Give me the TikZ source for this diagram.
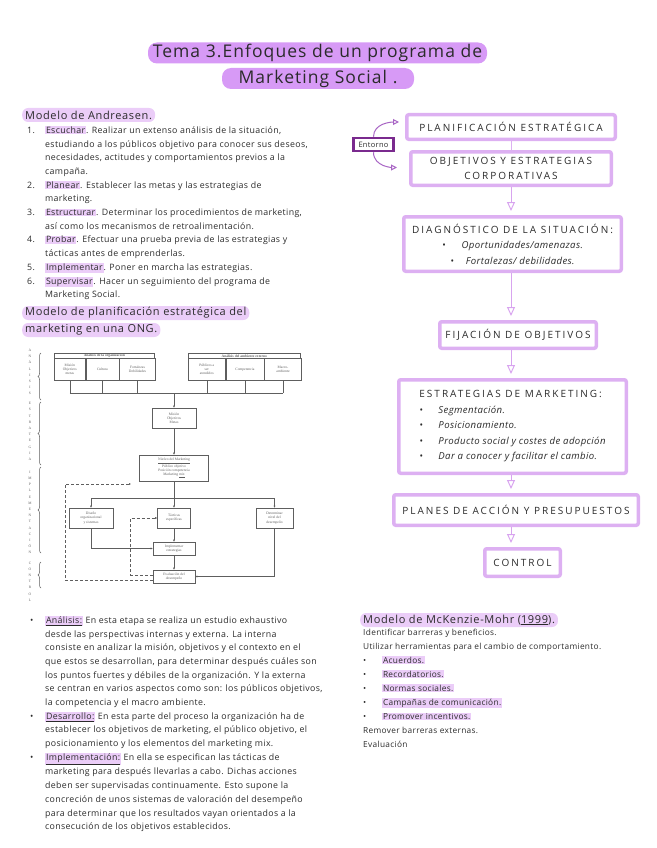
\documentclass[tikz,border=0pt]{standalone}
\usepackage{fontspec}
\setmainfont{Open Sans}[LetterSpace=4]
\newfontfamily\capsfont[LetterSpace=20]{Open Sans}
\newfontfamily\headfont[LetterSpace=6]{Open Sans}
\newfontfamily\scanfont{Liberation Serif}
\usepackage{tikz}
\usetikzlibrary{arrows.meta, positioning, calc, decorations.pathreplacing}

\definecolor{titlelila}{HTML}{D79AF6}
\definecolor{hllila}{HTML}{EBCDF8}
\definecolor{boxlila}{HTML}{DDB0F2}
\definecolor{arrlila}{HTML}{D8A4EF}
\definecolor{entlila}{HTML}{7A2A8E}
\definecolor{entarrow}{HTML}{A865C4}
\definecolor{ink}{HTML}{2B2B2B}
\definecolor{scangray}{HTML}{5E5E5E}

\newcommand{\hlt}[1]{{\setlength{\fboxsep}{0.8pt}\colorbox{hllila}{#1}}}
\newcommand{\handit}{\rmfamily\itshape\fontsize{9.6}{15.5}\selectfont}

\tikzstyle{titleband} = [fill=titlelila, rounded corners=9pt, minimum height=21pt, inner sep=0pt, text=ink, font=\headfont\fontsize{17.5}{19}\selectfont]
\tikzstyle{headband} = [fill=hllila, rounded corners=6pt, minimum height=14pt, inner xsep=3pt, inner ysep=0pt, text=ink, font=\headfont\fontsize{11}{12}\selectfont, anchor=west]
\tikzstyle{notes} = [anchor=north west, inner sep=0pt, text=ink, font=\fontsize{8.8}{13.7}\selectfont]
\tikzstyle{flow} = [rectangle, rounded corners=2pt, draw=boxlila, line width=3.5pt, fill=white, text=ink, align=center, font=\capsfont\fontsize{10}{15.5}\selectfont]
\tikzstyle{flowarr} = [-{Triangle[open, length=9pt, width=8pt]}, draw=arrlila, line width=1pt, shorten >=4pt]
\tikzstyle{entbox} = [rectangle, draw=entlila, line width=2.5pt, fill=white, text=ink, inner sep=1pt, minimum width=40pt, minimum height=13pt, font=\fontsize{7.5}{8}\selectfont]
\tikzstyle{entarr} = [-{Triangle[open, length=6pt, width=6pt]}, draw=entarrow, line width=1pt]
\tikzstyle{scanbox} = [rectangle, draw=scangray, line width=0.6pt, text=scangray, align=center, inner sep=0.5pt, font=\scanfont\fontsize{3.6}{4.2}\selectfont]
\tikzstyle{scanline} = [draw=scangray, line width=0.6pt]
\tikzstyle{scanarr} = [scanline, -{Latex[length=2pt, width=2pt]}]
\tikzstyle{scandash} = [scanarr, densely dashed]
\tikzstyle{scanlab} = [text=scangray, align=center, inner sep=0pt, font=\scanfont\fontsize{3.6}{6.2}\selectfont]
\tikzstyle{scanbrace} = [draw=scangray, line width=0.5pt, decorate, decoration={brace, amplitude=3pt}]

\begin{document}
\begin{tikzpicture}[x=1pt, y=-1pt]
  \useasboundingbox (0,0) rectangle (656,848);
  % Title
  \node[titleband, minimum width=339pt] (title1) at (317.5,53) {Tema 3.Enfoques de un programa de};
  \node[titleband, minimum width=192pt] (title2) at (318,78.5) {Marketing Social .};

  % Left column: Andreasen model
  \node[headband] (andre) at (22,115) {Modelo de Andreasen.};
  \node[notes] (andlist) at (27,123.6) {\begin{tabular}{@{}p{18pt}@{}l@{}}
    1. & \hlt{Escuchar}. Realizar un extenso análisis de la situación,\\
       & estudiando a los públicos objetivo para conocer sus deseos,\\
       & necesidades, actitudes y comportamientos previos a la\\
       & campaña.\\
    2. & \hlt{Planear}. Establecer las metas y las estrategias de\\
       & marketing.\\
    3. & \hlt{Estructurar}. Determinar los procedimientos de marketing,\\
       & así como los mecanismos de retroalimentación.\\
    4. & \hlt{Probar}. Efectuar una prueba previa de las estrategias y\\
       & tácticas antes de emprenderlas.\\
    5. & \hlt{Implementar}. Poner en marcha las estrategias.\\
    6. & \hlt{Supervisar}. Hacer un seguimiento del programa de\\
       & Marketing Social.
  \end{tabular}};

  % Left column: ONG model
  \node[headband] (ong1) at (22,313) {Modelo de planificación estratégica del};
  \node[headband] (ong2) at (22,330) {marketing en una ONG.};

  % scanned figure, side labels
  \node[scanlab] (labA) at (30,372) {A\\N\\Á\\L\\I\\S\\I\\S};
  \node[scanlab] (labE) at (30,431.5) {E\\S\\T\\R\\A\\T\\E\\G\\I\\A};
  \node[scanlab] (labI) at (30,512.5) {I\\M\\P\\L\\E\\M\\E\\N\\T\\A\\C\\I\\Ó\\N};
  \node[scanlab] (labC) at (30,581.5) {C\\O\\N\\T\\R\\O\\L};
  \draw[scanbrace] (41,400) -- (41,353);
  \draw[scanbrace] (41,465) -- (41,402);
  \draw[scanbrace] (41,553) -- (41,467);
  \draw[scanbrace] (41,588) -- (41,562);

  % scanned figure, analysis boxes
  \node[scanbox, font=\scanfont\bfseries\fontsize{3.6}{4.2}\selectfont, minimum width=100pt, minimum height=5pt, anchor=north west] (orghead) at (54,353) {Análisis de la organización};
  \node[scanbox, minimum width=31pt, minimum height=22pt, anchor=north west] (org1) at (54,358) {Misión\\Objetivos\\metas};
  \node[scanbox, minimum width=33pt, minimum height=22pt, right=0pt of org1] (org2) {Cultura};
  \node[scanbox, minimum width=36pt, minimum height=22pt, right=0pt of org2] (org3) {Fortalezas\\Debilidades};
  \node[scanbox, font=\scanfont\bfseries\fontsize{3.6}{4.2}\selectfont, minimum width=112pt, minimum height=5pt, anchor=north west] (exthead) at (188,353) {Análisis del ambiente externo};
  \node[scanbox, minimum width=37pt, minimum height=22pt, anchor=north west] (ext1) at (188,358) {Públicos a\\ser\\atendidos};
  \node[scanbox, minimum width=38pt, minimum height=22pt, right=0pt of ext1] (ext2) {Competencia};
  \node[scanbox, minimum width=37pt, minimum height=22pt, right=0pt of ext2] (ext3) {Macro-\\ambiente};
  \coordinate (bus) at (174,393);
  \foreach \c in {org1,org2,org3,ext1,ext2,ext3}
    \draw[scanline] (\c.south) -- (\c.south |- bus);
  \draw[scanline] (org1.south |- bus) -- (ext3.south |- bus);

  % scanned figure, strategy and implementation
  \node[scanbox, minimum width=44pt, minimum height=20pt] (mision) at (174,418) {Misión\\Objetivos\\Metas};
  \node[scanbox, minimum width=69pt, minimum height=26pt] (nucleo) at (174,468) {\underline{Núcleo del Marketing}\\Público objetivo\\Posición competencia\\Marketing \underline{mix}};
  \node[scanbox, minimum width=44pt, minimum height=20pt] (diseno) at (91,518) {Diseño\\organizacional\\y sistemas};
  \node[scanbox, minimum width=33pt, minimum height=20pt] (tacticas) at (174,518) {Tácticas\\específicas};
  \node[scanbox, minimum width=37pt, minimum height=20pt] (determinar) at (274.5,518) {Determinar\\nivel del\\desempeño};
  \node[scanbox, minimum width=42pt, minimum height=13pt] (implementar) at (174,548.5) {Implementar\\estrategias};
  \node[scanbox, minimum width=42pt, minimum height=13pt] (evaluacion) at (174,576.5) {Evaluación del\\desempeño};
  \coordinate (split) at (174,498);
  \coordinate (fbkcorner) at (65,484);
  \coordinate (fbkend) at (131,484);
  \draw[scanarr] (bus) -- (mision);
  \draw[scanarr] (mision) -- (nucleo);
  \draw[scanline] (nucleo) -- (split);
  \draw[scanline] (diseno.north |- split) -- (determinar.north |- split);
  \foreach \c in {diseno,tacticas,determinar}
    \draw[scanarr] (\c.north |- split) -- (\c.north);
  \draw[scanarr] (tacticas) -- (implementar);
  \draw[scanarr] (diseno.south) |- (implementar.west);
  \draw[scanarr] (implementar) -- (evaluacion);
  \draw[scanarr] (determinar.south) |- (evaluacion.east);
  % feedback loops (dashed)
  \draw[scandash] ([yshift=1.5pt]evaluacion.west) -- ++(-22,0) |- (tacticas.west);
  \draw[scandash] ([yshift=-3.5pt]evaluacion.west) -| (fbkcorner) -- (fbkend);

  % Left column: stages
  \node[notes] (stages) at (30,613.6) {\begin{tabular}{@{}p{15pt}@{}l@{}}
    • & \hlt{\underline{Análisis:}} En esta etapa se realiza un estudio exhaustivo\\
      & desde las perspectivas internas y externa. La interna\\
      & consiste en analizar la misión, objetivos y el contexto en el\\
      & que estos se desarrollan, para determinar después cuáles son\\
      & los puntos fuertes y débiles de la organización. Y la externa\\
      & se centran en varios aspectos como son: los públicos objetivos,\\
      & la competencia y el macro ambiente.\\
    • & \hlt{\underline{Desarrollo:}} En esta parte del proceso la organización ha de\\
      & establecer los objetivos de marketing, el público objetivo, el\\
      & posicionamiento y los elementos del marketing mix.\\
    • & \hlt{\underline{Implementación:}} En ella se especifican las tácticas de\\
      & marketing para después llevarlas a cabo. Dichas acciones\\
      & deben ser supervisadas continuamente. Esto supone la\\
      & concreción de unos sistemas de valoración del desempeño\\
      & para determinar que los resultados vayan orientados a la\\
      & consecución de los objetivos establecidos.
  \end{tabular}};

  % Right column: planning flow
  \coordinate (spine) at (511,0);
  \node[flow, minimum width=208.5pt, minimum height=24.5pt] (plan) at (511,127) {PLANIFICACIÓN ESTRATÉGICA};
  \node[flow, minimum width=200.5pt, minimum height=33.5pt, below=9pt of plan] (obj) {OBJETIVOS Y ESTRATEGIAS\\CORPORATIVAS};
  \node[flow, minimum width=217.5pt, minimum height=54.5pt, below=28pt of obj, xshift=1.5pt] (diag) {DIAGNÓSTICO DE LA SITUACIÓN:\\
    {\handit •\hspace{16pt}Oportunidades/amenazas.}\\
    {\handit •\hspace{12pt}Fortalezas/ debilidades.}};
  \node[flow, minimum width=156.5pt, minimum height=26.5pt, below=47pt of diag, xshift=5.5pt] (fij) {FIJACIÓN DE OBJETIVOS};
  \node[flow, align=left, minimum width=227.5pt, minimum height=93.5pt, below=28pt of fij, xshift=-5.5pt] (estr) {ESTRATEGIAS DE MARKETING:\\
    {\handit\makebox[19pt][l]{•}Segmentación.}\\
    {\handit\makebox[19pt][l]{•}Posicionamiento.}\\
    {\handit\makebox[19pt][l]{•}Producto social y costes de adopción}\\
    {\handit\makebox[19pt][l]{•}Dar a conocer y facilitar el cambio.}};
  \node[flow, minimum width=244.5pt, minimum height=30.5pt, below=18pt of estr, xshift=3.5pt] (planes) {PLANES DE ACCIÓN Y PRESUPUESTOS};
  \node[flow, minimum width=75.5pt, minimum height=27.5pt, below=20pt of planes, xshift=6.5pt] (control) {CONTROL};
  \draw[draw=boxlila, line width=1pt] (plan.south -| spine) -- (obj.north -| spine);
  \draw[flowarr] (obj.south -| spine) -- (diag.north -| spine);
  \draw[flowarr] (diag.south -| spine) -- (fij.north -| spine);
  \draw[flowarr] (fij.south -| spine) -- (estr.north -| spine);
  \draw[flowarr] (estr.south -| spine) -- (planes.north -| spine);
  \draw[flowarr] (planes.south -| spine) -- (control.north -| spine);

  % Entorno feeds the plan
  \node[entbox] (entorno) at (373.5,144.5) {Entorno};
  \draw[entarr, shorten >=6pt] (entorno.north) to[out=90, in=180] ([yshift=5pt]plan.west);
  \draw[entarr, shorten >=12pt] (entorno.south) to[out=-90, in=180] ([yshift=1pt]obj.west);

  % Right column: McKenzie-Mohr
  \node[headband] (mck) at (360,620) {Modelo de McKenzie-Mohr (\underline{1999}).};
  \node[notes, font=\fontsize{8.3}{14}\selectfont] (mcklist) at (363,625.4) {\begin{tabular}{@{}p{19pt}@{}l@{}}
    \multicolumn{2}{@{}l@{}}{Identificar barreras y beneficios.}\\
    \multicolumn{2}{@{}l@{}}{Utilizar herramientas para el cambio de comportamiento.}\\
    • & \hlt{Acuerdos.}\\
    • & \hlt{Recordatorios.}\\
    • & \hlt{Normas sociales.}\\
    • & \hlt{Campañas de comunicación.}\\
    • & \hlt{Promover incentivos.}\\
    \multicolumn{2}{@{}l@{}}{Remover barreras externas.}\\
    \multicolumn{2}{@{}l@{}}{Evaluación}
  \end{tabular}};
\end{tikzpicture}
\end{document}
